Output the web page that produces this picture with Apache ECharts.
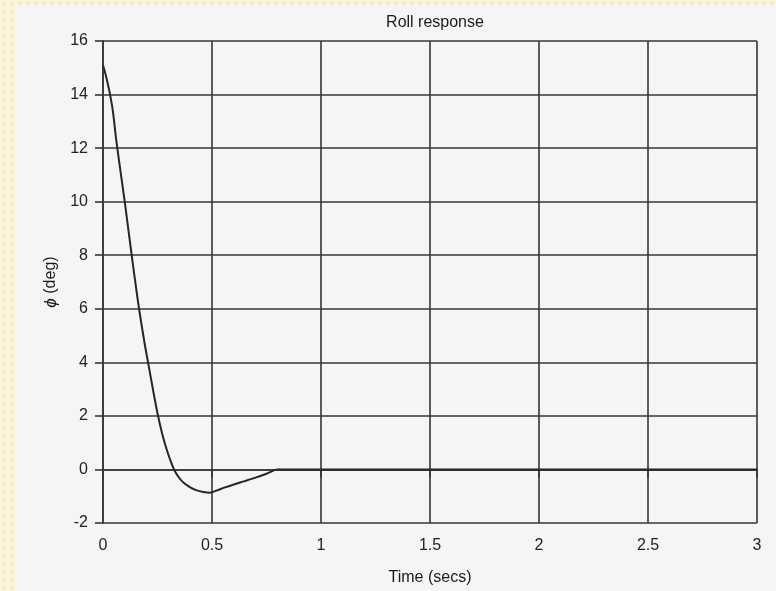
<!DOCTYPE html>
<html><head><meta charset="utf-8">
<script src="https://cdn.jsdelivr.net/npm/echarts@6/dist/echarts.min.js"></script>
<style>
html,body{margin:0;padding:0;width:776px;height:591px;overflow:hidden;}
body{background-color:#fdf7cf;background-image:radial-gradient(circle,#f8e2ea 38%,transparent 42%);background-size:8px 8px;}
#paper{position:absolute;left:16px;top:5px;right:0;bottom:0;background:#f5f5f5;}
#chart{position:absolute;left:0;top:0;width:776px;height:591px;}
</style></head>
<body><div id="paper"></div><div id="chart"></div>
<script>
const chartTitle = 'Roll response';
const xAxisName = 'Time (secs)';
const yAxisName = '{phi|ϕ} (deg)';
const xTicks = [0, 0.5, 1, 1.5, 2, 2.5, 3];
const yTicks = [-2, 0, 2, 4, 6, 8, 10, 12, 14, 16];
const timeSecs = [0, 0.015, 0.03, 0.045, 0.06, 0.08, 0.1, 0.13, 0.16, 0.19, 0.21, 0.23, 0.25, 0.27, 0.29, 0.31, 0.33, 0.35, 0.37, 0.4, 0.43, 0.46, 0.49, 0.52, 0.56, 0.6, 0.65, 0.7, 0.75, 0.8, 1.5, 2, 2.5, 3];
const rollDeg  = [15.1, 14.65, 14.1, 13.4, 12.35, 11.15, 9.98, 8.1, 6.3, 4.75, 3.85, 2.95, 2.1, 1.38, 0.8, 0.32, -0.07, -0.32, -0.5, -0.67, -0.78, -0.84, -0.87, -0.79, -0.67, -0.56, -0.435, -0.305, -0.16, 0, 0, 0, 0, 0];

const lineCol = '#363636';
const font = 'Liberation Sans, Arial, sans-serif';
const chart = echarts.init(document.getElementById('chart'), null, {renderer: 'canvas'});
const axisCommon = {
  axisLine: {show: true, lineStyle: {color: lineCol, width: 1.6}},
  axisTick: {show: true, inside: false, length: 8, lineStyle: {color: lineCol, width: 1.6}},
  splitLine: {show: true, lineStyle: {color: lineCol, width: 1.6}},
  axisLabel: {color: '#222', fontSize: 16, fontFamily: font, margin: 15},
  nameTextStyle: {color: '#1a1a1a', fontSize: 16, fontFamily: font}
};
chart.setOption({
  backgroundColor: 'transparent',
  animation: false,
  title: {
    text: chartTitle, left: 430, top: 10, textAlign: 'center',
    textStyle: {color: '#1a1a1a', fontSize: 16, fontWeight: 'normal', fontFamily: font}
  },
  grid: {left: 103, right: 19, top: 41, bottom: 68},
  xAxis: Object.assign({}, axisCommon, {
    type: 'value', min: xTicks[0], max: xTicks[xTicks.length - 1], interval: xTicks[1] - xTicks[0],
    name: xAxisName, nameLocation: 'middle', nameGap: 47
  }),
  yAxis: Object.assign({}, axisCommon, {
    type: 'value', min: yTicks[0], max: yTicks[yTicks.length - 1], interval: yTicks[1] - yTicks[0],
    name: yAxisName, nameLocation: 'middle', nameGap: 39,
    nameTextStyle: {color: '#1a1a1a', fontSize: 16, fontFamily: font,
      rich: {phi: {fontStyle: 'italic', fontSize: 17, fontFamily: font, color: '#1a1a1a'}}}
  }),
  series: [{
    type: 'line',
    data: timeSecs.map((t, i) => [t, rollDeg[i]]),
    showSymbol: false,
    smooth: 0.3,
    lineStyle: {color: '#262626', width: 2}
  }]
});
</script>
</body></html>
